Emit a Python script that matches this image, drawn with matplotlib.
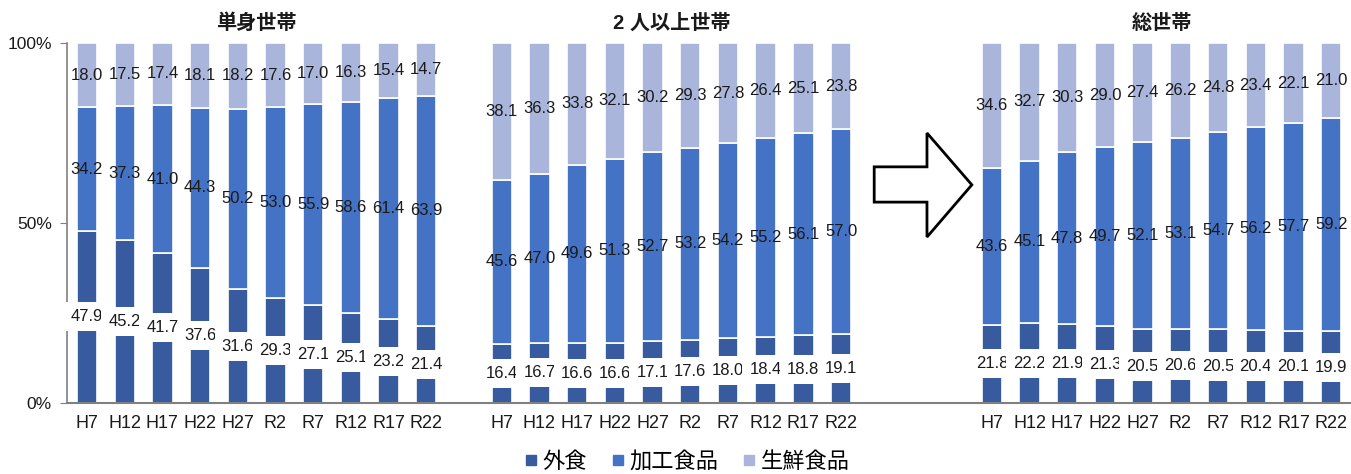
import matplotlib
matplotlib.use("Agg")
import matplotlib.pyplot as plt
import matplotlib.transforms as mtransforms
from matplotlib.patches import Polygon
from matplotlib.lines import Line2D
import numpy as np

plt.rcParams['font.family'] = ['Liberation Sans', 'Noto Sans CJK JP', 'DejaVu Sans']

periods = ["H7", "H12", "H17", "H22", "H27", "R2", "R7", "R12", "R17", "R22"]
groups = ["単身世帯", "2 人以上世帯", "総世帯"]
series_names = ["外食", "加工食品", "生鮮食品"]

single_eatout = [47.9, 45.2, 41.7, 37.6, 31.6, 29.3, 27.1, 25.1, 23.2, 21.4]
single_processed = [34.2, 37.3, 41.0, 44.3, 50.2, 53.0, 55.9, 58.6, 61.4, 63.9]
single_fresh = [18.0, 17.5, 17.4, 18.1, 18.2, 17.6, 17.0, 16.3, 15.4, 14.7]

multi_eatout = [16.4, 16.7, 16.6, 16.6, 17.1, 17.6, 18.0, 18.4, 18.8, 19.1]
multi_processed = [45.6, 47.0, 49.6, 51.3, 52.7, 53.2, 54.2, 55.2, 56.1, 57.0]
multi_fresh = [38.1, 36.3, 33.8, 32.1, 30.2, 29.3, 27.8, 26.4, 25.1, 23.8]

total_eatout = [21.8, 22.2, 21.9, 21.3, 20.5, 20.6, 20.5, 20.4, 20.1, 19.9]
total_processed = [43.6, 45.1, 47.8, 49.7, 52.1, 53.1, 54.7, 56.2, 57.7, 59.2]
total_fresh = [34.6, 32.7, 30.3, 29.0, 27.4, 26.2, 24.8, 23.4, 22.1, 21.0]

colors = ["#375B9E", "#4472C4", "#A9B5DB"]

group_data = [
    (single_eatout, single_processed, single_fresh),
    (multi_eatout, multi_processed, multi_fresh),
    (total_eatout, total_processed, total_fresh),
]
group_offsets = [0, 11, 24]  # gaps between panels

fig = plt.figure(figsize=(13.51, 4.74), dpi=100)
ax = fig.add_axes([67/1351, 71/474, (1350-67)/1351, 360/474])

xticks, xlabels = [], []
for g, (gname, data, off) in enumerate(zip(groups, group_data, group_offsets)):
    x = np.arange(len(periods)) + off
    bottom = np.zeros(len(periods))
    for s, vals in enumerate(data):
        vals = np.array(vals)
        ax.bar(x, vals, bottom=bottom, width=0.54, color=colors[s],
               edgecolor="white", linewidth=1.2, zorder=2)
        for xi, b, v in zip(x, bottom, vals):
            kw = {}
            if s == 0:
                kw['bbox'] = dict(boxstyle='square,pad=0.42', fc='white', ec='none')
            ax.text(xi, b + v / 2, f"{v:.1f}", ha='center', va='center',
                    fontsize=12, color='#1a1a1a', zorder=4, **kw)
        bottom = bottom + vals
    xticks.extend(x)
    xlabels.extend(periods)
    ax.text(x.mean(), 1.055, gname, transform=mtransforms.blended_transform_factory(ax.transData, ax.transAxes),
            ha='center', va='center', fontsize=14.5, fontweight='bold', color='#1a1a1a')

ax.set_xlim(-0.53, 33.5)
ax.set_ylim(0, 100)
ax.set_xticks(xticks)
ax.set_xticklabels(xlabels, fontsize=13, color='#1a1a1a')
ax.tick_params(axis='x', length=0, pad=9)
ax.set_yticks([0, 50, 100])
ax.set_yticklabels(["0%", "50%", "100%"], fontsize=12.5, color='#1a1a1a')
ax.tick_params(axis='y', length=5, color='#808080', pad=6, direction='out')
for sp in ['top', 'right']:
    ax.spines[sp].set_visible(False)
ax.spines['left'].set_color('#808080')
ax.spines['bottom'].set_color('#808080')
ax.spines['left'].set_linewidth(1.2)
ax.spines['bottom'].set_linewidth(1.5)
ax.spines['left'].set_zorder(1)

# block arrow between panels (decoration)
arrow_pts = [(20.88, 65.6), (22.28, 65.6), (22.28, 75.0), (23.47, 60.6),
             (22.28, 46.1), (22.28, 55.8), (20.88, 55.8)]
ax.add_patch(Polygon(arrow_pts, closed=True, fc='white', ec='black', lw=2, zorder=5, clip_on=False))

handles = [Line2D([], [], marker='s', linestyle='none', markersize=6.5,
                  markerfacecolor=c, markeredgecolor=c) for c in colors]
fig.legend(handles, series_names, loc='center', bbox_to_anchor=(686/1351, 1 - 462/474),
           ncol=3, frameon=False, fontsize=16, handletextpad=0.1, columnspacing=1.0,
           handlelength=0.8)

fig.savefig("out.png", dpi=100)
